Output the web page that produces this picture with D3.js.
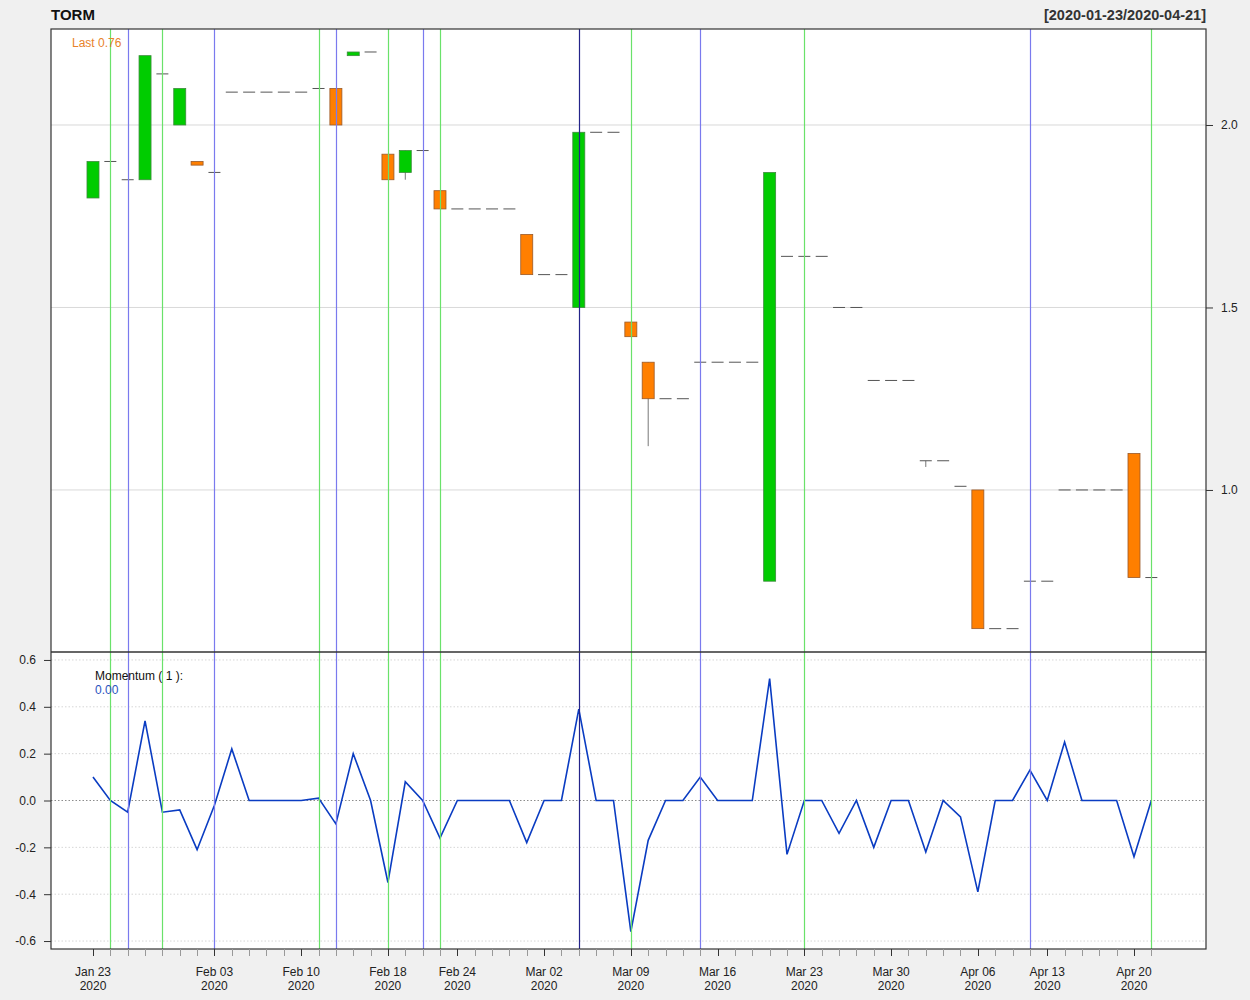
<!DOCTYPE html>
<html>
<head>
<meta charset="utf-8">
<script src="https://cdn.jsdelivr.net/npm/d3@7"></script>
<style>
  body { margin: 0; background: #f0f0f0; }
  svg { display: block; font-family: "Liberation Sans", Arial, sans-serif; }
</style>
</head>
<body>
<svg id="chart" width="1250" height="1000"></svg>
<script>
// daily bars, TORM 2020-01-23 .. 2020-04-21
const dates = ["2020-01-23","2020-01-24","2020-01-27","2020-01-28","2020-01-29","2020-01-30","2020-01-31",
  "2020-02-03","2020-02-04","2020-02-05","2020-02-06","2020-02-07","2020-02-10","2020-02-11","2020-02-12",
  "2020-02-13","2020-02-14","2020-02-18","2020-02-19","2020-02-20","2020-02-21","2020-02-24","2020-02-25",
  "2020-02-26","2020-02-27","2020-02-28","2020-03-02","2020-03-03","2020-03-04","2020-03-05","2020-03-06",
  "2020-03-09","2020-03-10","2020-03-11","2020-03-12","2020-03-13","2020-03-16","2020-03-17","2020-03-18",
  "2020-03-19","2020-03-20","2020-03-23","2020-03-24","2020-03-25","2020-03-26","2020-03-27","2020-03-30",
  "2020-03-31","2020-04-01","2020-04-02","2020-04-03","2020-04-06","2020-04-07","2020-04-08","2020-04-09",
  "2020-04-13","2020-04-14","2020-04-15","2020-04-16","2020-04-17","2020-04-20","2020-04-21"];

const open  = [1.80,1.90,1.85,1.85,2.14,2.00,1.90,1.87,2.09,2.09,2.09,2.09,2.09,2.10,2.10,2.19,2.20,1.92,1.87,1.93,
  1.82,1.77,1.77,1.77,1.77,1.70,1.59,1.59,1.50,1.98,1.98,1.46,1.35,1.25,1.25,1.35,1.35,1.35,1.35,0.75,
  1.64,1.64,1.64,1.50,1.50,1.30,1.30,1.30,1.08,1.08,1.01,1.00,0.62,0.62,0.75,0.75,1.00,1.00,1.00,1.00,1.10,0.76];
const high  = [1.90,1.90,1.85,2.19,2.14,2.10,1.90,1.87,2.09,2.09,2.09,2.09,2.09,2.10,2.10,2.20,2.20,1.92,1.93,1.93,
  1.82,1.77,1.77,1.77,1.77,1.70,1.59,1.59,1.98,1.98,1.98,1.46,1.35,1.25,1.25,1.35,1.35,1.35,1.35,1.87,
  1.64,1.64,1.64,1.50,1.50,1.30,1.30,1.30,1.08,1.08,1.01,1.00,0.62,0.62,0.75,0.75,1.00,1.00,1.00,1.00,1.10,0.76];
const low   = [1.80,1.90,1.85,1.85,2.14,2.00,1.89,1.87,2.09,2.09,2.09,2.09,2.09,2.10,2.00,2.19,2.20,1.85,1.85,1.93,
  1.77,1.77,1.77,1.77,1.77,1.59,1.59,1.59,1.50,1.98,1.98,1.42,1.12,1.25,1.25,1.35,1.35,1.35,1.35,0.75,
  1.64,1.64,1.64,1.50,1.50,1.30,1.30,1.30,1.063,1.08,1.01,0.62,0.62,0.62,0.75,0.75,1.00,1.00,1.00,1.00,0.76,0.76];
const close = [1.90,1.90,1.85,2.19,2.14,2.10,1.89,1.87,2.09,2.09,2.09,2.09,2.09,2.10,2.00,2.20,2.20,1.85,1.93,1.93,
  1.77,1.77,1.77,1.77,1.77,1.59,1.59,1.59,1.98,1.98,1.98,1.42,1.25,1.25,1.25,1.35,1.35,1.35,1.35,1.87,
  1.64,1.64,1.64,1.50,1.50,1.30,1.30,1.30,1.08,1.08,1.01,0.62,0.62,0.62,0.75,0.75,1.00,1.00,1.00,1.00,0.76,0.76];

// Momentum(1)
const momentum = [0.10,0.00,-0.05,0.34,-0.05,-0.04,-0.21,-0.02,0.22,0.00,0.00,0.00,0.00,0.01,-0.10,0.20,0.00,-0.35,
  0.08,0.00,-0.16,0.00,0.00,0.00,0.00,-0.18,0.00,0.00,0.39,0.00,0.00,-0.56,-0.17,0.00,0.00,0.10,0.00,0.00,0.00,
  0.52,-0.23,0.00,0.00,-0.14,0.00,-0.20,0.00,0.00,-0.22,0.00,-0.07,-0.39,0.00,0.00,0.13,0.00,0.25,0.00,0.00,0.00,
  -0.24,0.00];

// vertical marker lines (bar index)
const greenLines = [1,4,13,17,20,31,41,61];
const blueLines = [2,7,14,19,35,54];
const navyLines = [28];

const priceTicks = [1.0, 1.5, 2.0];
const momTicks = [-0.6,-0.4,-0.2,0.0,0.2,0.4,0.6];
const labelIdx = [0,7,12,17,21,26,31,36,41,46,51,55,60];

const svg = d3.select("#chart");
const L = 51, R = 1206, T = 29, MID = 652, B = 949;
const parse = d3.timeParse("%Y-%m-%d");
const fmtDay = d3.timeFormat("%b %d");
const fmt1 = d => d.toFixed(1);

const x = d3.scaleLinear().domain([-2.42, 64.15]).range([L, R]);
const y = d3.scaleLinear().domain([0.556, 2.263]).range([MID, T]);
const ym = d3.scaleLinear().domain([-0.634, 0.634]).range([B, MID]);

// plot background
svg.append("rect").attr("x", L).attr("y", T).attr("width", R - L).attr("height", B - T).attr("fill", "white");

// grid
svg.append("g").selectAll("line").data(priceTicks).enter().append("line")
  .attr("x1", L).attr("x2", R).attr("y1", d => y(d)).attr("y2", d => y(d))
  .attr("stroke", "#d9d9d9").attr("stroke-width", 1);

svg.append("g").selectAll("line").data(momTicks).enter().append("line")
  .attr("x1", L).attr("x2", R).attr("y1", d => ym(d)).attr("y2", d => ym(d))
  .attr("stroke", d => d === 0 ? "#8c8c8c" : "#d6d6d6")
  .attr("stroke-dasharray", "1.5,2").attr("stroke-width", 1);

// candles
const idx = d3.range(dates.length);
const bw = 6;
const cg = svg.append("g");
cg.selectAll("line.wick").data(idx.filter(i => high[i] > Math.max(open[i], close[i]) || low[i] < Math.min(open[i], close[i])))
  .enter().append("line")
  .attr("x1", i => x(i)).attr("x2", i => x(i))
  .attr("y1", i => y(high[i])).attr("y2", i => y(low[i]))
  .attr("stroke", "#777").attr("stroke-width", 1);

cg.selectAll("rect").data(idx.filter(i => open[i] !== close[i])).enter().append("rect")
  .attr("x", i => x(i) - bw).attr("width", bw * 2)
  .attr("y", i => y(Math.max(open[i], close[i])))
  .attr("height", i => Math.abs(y(open[i]) - y(close[i])))
  .attr("fill", i => close[i] > open[i] ? "#00cc00" : "#ff7f00")
  .attr("stroke", i => close[i] > open[i] ? "#3d8a3d" : "#9a5a2a").attr("stroke-width", 0.8);

cg.selectAll("line.doji").data(idx.filter(i => open[i] === close[i])).enter().append("line")
  .attr("x1", i => x(i) - bw).attr("x2", i => x(i) + bw)
  .attr("y1", i => y(close[i])).attr("y2", i => y(close[i]))
  .attr("stroke", "#555").attr("stroke-width", 1);

// momentum line
svg.append("path").datum(idx)
  .attr("d", d3.line().x(i => x(i)).y(i => ym(momentum[i])))
  .attr("fill", "none").attr("stroke", "#0a3cc2").attr("stroke-width", 1.6);

// vertical lines
const vl = svg.append("g");
function vlines(list, col) {
  vl.append("g").selectAll("line").data(list).enter().append("line")
    .attr("x1", i => Math.round(x(i)) + 0.5).attr("x2", i => Math.round(x(i)) + 0.5)
    .attr("y1", T).attr("y2", B)
    .attr("stroke", col).attr("stroke-width", 1.2);
}
vlines(greenLines, "#6ae26a");
vlines(blueLines, "#7a7aee");
vlines(navyLines, "#24248a");

// frame
svg.append("rect").attr("x", L).attr("y", T).attr("width", R - L).attr("height", B - T)
  .attr("fill", "none").attr("stroke", "#333").attr("stroke-width", 1.2);
svg.append("line").attr("x1", L).attr("x2", R).attr("y1", MID).attr("y2", MID)
  .attr("stroke", "#333").attr("stroke-width", 1.5);

// axes
const rAxis = svg.append("g").attr("transform", `translate(${R},0)`)
  .call(d3.axisRight(y).tickValues(priceTicks).tickFormat(fmt1).tickSize(7).tickPadding(8));
const lAxis = svg.append("g").attr("transform", `translate(${L},0)`)
  .call(d3.axisLeft(ym).tickValues(momTicks).tickFormat(fmt1).tickSize(7).tickPadding(8));
[rAxis, lAxis].forEach(a => {
  a.select(".domain").remove();
  a.selectAll("line").attr("stroke", "#333");
  a.selectAll("text").attr("font-size", 12).attr("fill", "#222").attr("font-family", "Liberation Sans, Arial, sans-serif");
});

// x ticks
const xg = svg.append("g");
xg.selectAll("line").data(idx).enter().append("line")
  .attr("x1", i => Math.round(x(i)) + 0.5).attr("x2", i => Math.round(x(i)) + 0.5)
  .attr("y1", B).attr("y2", B + 7)
  .attr("stroke", i => labelIdx.includes(i) ? "#333" : "#999").attr("stroke-width", 1);
const xl = xg.selectAll("text").data(labelIdx).enter().append("text")
  .attr("x", i => x(i)).attr("y", 976).attr("text-anchor", "middle")
  .attr("font-size", 12).attr("fill", "#222");
xl.append("tspan").attr("x", i => x(i)).text(i => fmtDay(parse(dates[i])));
xl.append("tspan").attr("x", i => x(i)).attr("dy", 14).text(i => dates[i].slice(0, 4));

// titles and legends
svg.append("text").attr("x", L).attr("y", 20).attr("font-size", 15).attr("font-weight", "bold")
  .attr("fill", "#111").text("TORM");
svg.append("text").attr("x", R).attr("y", 20).attr("text-anchor", "end").attr("font-size", 14.5)
  .attr("font-weight", "bold").attr("fill", "#333")
  .text(`[${dates[0]}/${dates[dates.length - 1]}]`);
svg.append("text").attr("x", 72).attr("y", 47).attr("font-size", 12).attr("fill", "#e8822a")
  .text("Last " + close[close.length - 1].toFixed(2));
svg.append("text").attr("x", 95).attr("y", 680).attr("font-size", 12).attr("fill", "#111")
  .text("Momentum ( 1 ):");
svg.append("text").attr("x", 95).attr("y", 694).attr("font-size", 12).attr("fill", "#2a52be")
  .text(momentum[momentum.length - 1].toFixed(2));
</script>
</body>
</html>
